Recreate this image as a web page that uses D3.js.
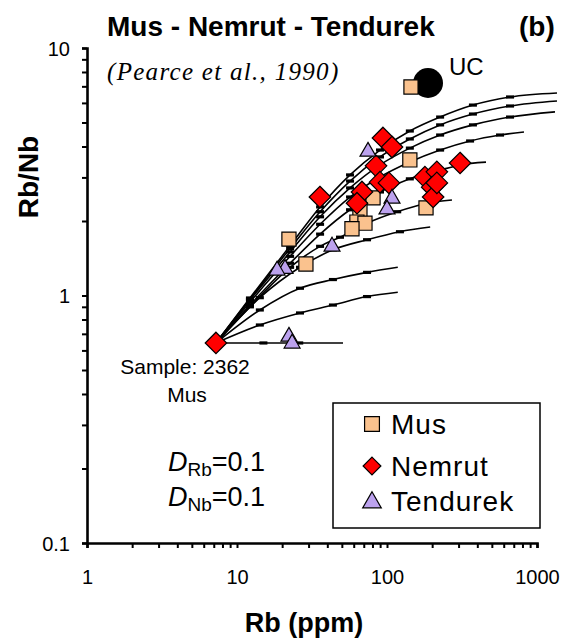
<!DOCTYPE html>
<html>
<head>
<meta charset="utf-8">
<script src="https://cdn.jsdelivr.net/npm/d3@7"></script>
<style>
  body { margin: 0; background: #fff; }
  svg { display: block; }
  text { font-family: "Liberation Sans", Arial, sans-serif; fill: #000; }
</style>
</head>
<body>
<svg id="chart" width="564" height="641"></svg>
<script>
// ---- Data: Rb (ppm) and Rb/Nb ----
const musRb      = [144.5, 142, 80.7, 66, 63, 71.3, 58.4, 182, 22.2, 28.8];
const musRatio   = [6.96, 3.53, 2.48, 2.22, 1.98, 1.96, 1.86, 2.26, 1.69, 1.34];

const nemrutRb    = [94, 108, 84.5, 35.7, 68.1, 63.1, 89.8, 103, 179, 215, 307, 200, 203, 215, 7.24];
const nemrutRatio = [4.33, 3.98, 3.34, 2.50, 2.62, 2.36, 2.87, 2.85, 3.01, 3.16, 3.43, 2.74, 2.50, 2.85, 0.643];

const tendurekRb    = [74.7, 108, 100, 43, 20.9, 18.5, 22.2, 23.3];
const tendurekRatio = [3.87, 2.50, 2.26, 1.60, 1.30, 1.28, 0.692, 0.649];

// Upper crust reference composition
const ucRb = 187.7, ucRatio = 7.22;

// Model curves from sample 2362 (Rb, Rb/Nb pairs)
const curveA = [[7.24,0.643],[12.2,0.977],[22.6,1.59],[35.8,2.28],[56.7,3.07],[89.8,3.87],[142,4.62],[226,5.26],[374,5.88],[661,6.34],[1359,6.58]];
const curveB = [[7.24,0.643],[12.2,0.968],[22.6,1.55],[35.8,2.18],[56.7,2.90],[89.8,3.63],[142,4.29],[226,4.89],[374,5.41],[661,5.83],[1359,6.11]];
const curveC = [[7.24,0.643],[12.2,0.959],[22.6,1.50],[35.8,2.08],[56.7,2.72],[89.8,3.37],[142,3.94],[226,4.45],[374,4.89],[661,5.26],[1318,5.52]];
const curveD = [[7.24,0.643],[12.2,0.940],[22.6,1.44],[35.8,1.94],[56.7,2.50],[89.8,3.01],[142,3.46],[226,3.87],[358,4.21],[567,4.45],[819,4.58]];
const curveE = [[7.24,0.643],[12.2,0.915],[22.6,1.35],[35.8,1.77],[56.7,2.22],[89.8,2.62],[142,2.96],[226,3.21],[307,3.37],[457,3.46]];
const curveF = [[7.24,0.643],[12.2,0.900],[22.6,1.30],[35.8,1.58],[48.6,1.72],[73.6,1.96],[117,2.18],[185,2.36],[271,2.43]];
const curveG = [[7.24,0.643],[14.2,0.98],[26.3,1.30],[43.6,1.53],[73.6,1.68],[122,1.81],[194,1.89]];
const curveH = [[7.24,0.643],[14.2,0.874],[26.3,1.07],[43.6,1.16],[73.6,1.24],[118,1.30]];
const curveI = [[7.24,0.643],[14.2,0.760],[26.3,0.850],[43.6,0.915],[73.6,0.990],[118,1.03]];
const curveJ = [[7.24,0.643],[15,0.643],[26,0.643],[50.9,0.643]];
const curves = [curveA, curveB, curveC, curveD, curveE, curveF, curveG, curveH, curveI, curveJ];

// Axis ticks
const xMajor = [1, 10, 100, 1000];
const yMajor = [0.1, 1, 10];
const xLabels = ["1", "10", "100", "1000"];
const yLabels = ["0.1", "1", "10"];

const seriesNames = ["Mus", "Nemrut", "Tendurek"];
const seriesColors = ["#FAC28E", "#FF0000", "#BCA2EE"];

// ---- Scales ----
const svg = d3.select("#chart");
const x = d3.scaleLog().domain([1, 1000]).range([87, 537]);
const y = d3.scaleLog().domain([0.1, 10]).range([543, 48]);

// ---- Model curves ----
const line = d3.line().x(d => x(d[0])).y(d => y(d[1])).curve(d3.curveMonotoneX);
const gCurves = svg.append("g");
curves.forEach(c => {
  gCurves.append("path").attr("d", line(c))
    .attr("fill", "none").attr("stroke", "#000").attr("stroke-width", 1.6);
  gCurves.selectAll(null).data(c.slice(1, -1)).enter().append("rect")
    .attr("x", d => x(d[0]) - 4).attr("y", d => y(d[1]) - 1.6)
    .attr("width", 8).attr("height", 3.2).attr("fill", "#000");
});

// ---- Axes ----
const xTicks = x.ticks();
const yTicks = y.ticks();
const xAxis = d3.axisBottom(x).tickValues(xTicks).tickSize(5).tickPadding(22)
  .tickFormat(d => { const i = xMajor.indexOf(d); return i >= 0 ? xLabels[i] : ""; });
const yAxis = d3.axisLeft(y).tickValues(yTicks).tickSize(5).tickPadding(12)
  .tickFormat(d => { const i = yMajor.findIndex(v => Math.abs(v - d) < 1e-9); return i >= 0 ? yLabels[i] : ""; });

const gx = svg.append("g").attr("transform", "translate(0,543)").call(xAxis);
const gy = svg.append("g").attr("transform", "translate(87,0)").call(yAxis);
[gx, gy].forEach(g => {
  g.select(".domain").attr("stroke", "#000").attr("stroke-width", 2.6);
  g.selectAll(".tick line").attr("stroke", "#000").attr("stroke-width", 2);
  g.selectAll(".tick text").attr("font-size", 20).attr("font-family", "Liberation Sans, Arial, sans-serif").attr("fill", "#000");
});
gy.selectAll(".tick text").attr("dy", "0.35em");

// ---- Upper crust point ----
svg.append("circle").attr("cx", x(ucRb)).attr("cy", y(ucRatio)).attr("r", 15).attr("fill", "#000");
svg.append("text").attr("x", 449).attr("y", 75).attr("font-size", 24).text("UC");

// ---- Sample markers ----
const sym = [d3.symbolSquare, d3.symbolDiamond, d3.symbolTriangle];
const sizes = [200, 190, 110];
const sets = [
  d3.zip(musRb, musRatio),
  d3.zip(nemrutRb, nemrutRatio),
  d3.zip(tendurekRb, tendurekRatio)
];
function markerPath(i, size) {
  if (i === 1) {
    // wide diamond
    const r = Math.sqrt(size) * 0.78;
    return `M0,${-r}L${r},0L0,${r}L${-r},0Z`;
  }
  return d3.symbol().type(sym[i]).size(size)();
}
sets.forEach((pts, i) => {
  svg.append("g").selectAll("path").data(pts).enter().append("path")
    .attr("d", markerPath(i, sizes[i]))
    .attr("transform", d => `translate(${x(d[0])},${y(d[1]) + (i === 2 ? 1.5 : 0)})`)
    .attr("fill", seriesColors[i]).attr("stroke", "#000").attr("stroke-width", 1.2);
});

// ---- Text annotations ----
svg.append("text").attr("x", 107).attr("y", 36).attr("font-size", 28).attr("font-weight", "bold")
  .text("Mus - Nemrut - Tendurek");
svg.append("text").attr("x", 519).attr("y", 36).attr("font-size", 28).attr("font-weight", "bold").text("(b)");
svg.append("text").attr("x", 107).attr("y", 80).attr("font-size", 25).attr("font-style", "italic")
  .attr("letter-spacing", 1.3)
  .style("font-family", "Liberation Serif, 'Times New Roman', serif")
  .text("(Pearce et al., 1990)");

svg.append("text").attr("x", 185).attr("y", 374).attr("font-size", 21).attr("text-anchor", "middle").text("Sample: 2362");
svg.append("text").attr("x", 187).attr("y", 402).attr("font-size", 21).attr("text-anchor", "middle").text("Mus");

function partition(yy, sub) {
  const t = svg.append("text").attr("x", 168).attr("y", yy).attr("font-size", 27);
  t.append("tspan").attr("font-style", "italic").text("D");
  t.append("tspan").attr("font-size", 19).attr("dy", 5).text(sub);
  t.append("tspan").attr("dy", -5).text("=0.1");
}
partition(471, "Rb");
partition(506, "Nb");

// ---- Legend ----
const lg = svg.append("g");
lg.append("rect").attr("x", 333).attr("y", 403).attr("width", 207).attr("height", 125)
  .attr("fill", "#fff").attr("stroke", "#000").attr("stroke-width", 1.5);
const legendY = [424, 466, 501];
const legendSizes = [220, 130, 150];
seriesNames.forEach((n, i) => {
  lg.append("path").attr("d", markerPath(i, legendSizes[i]))
    .attr("transform", `translate(372,${legendY[i] + (i === 2 ? 1.5 : 0)})`)
    .attr("fill", seriesColors[i]).attr("stroke", "#000").attr("stroke-width", 1.2);
  lg.append("text").attr("x", 391).attr("y", legendY[i]).attr("dy", "0.35em")
    .attr("font-size", 28).attr("letter-spacing", 1).text(n);
});

// ---- Axis titles ----
svg.append("text").attr("transform", "translate(38,177) rotate(-90)").attr("text-anchor", "middle")
  .attr("font-size", 28).attr("font-weight", "bold").text("Rb/Nb");
svg.append("text").attr("x", 304).attr("y", 632).attr("text-anchor", "middle")
  .attr("font-size", 27).attr("font-weight", "bold").text("Rb (ppm)");
</script>
</body>
</html>
